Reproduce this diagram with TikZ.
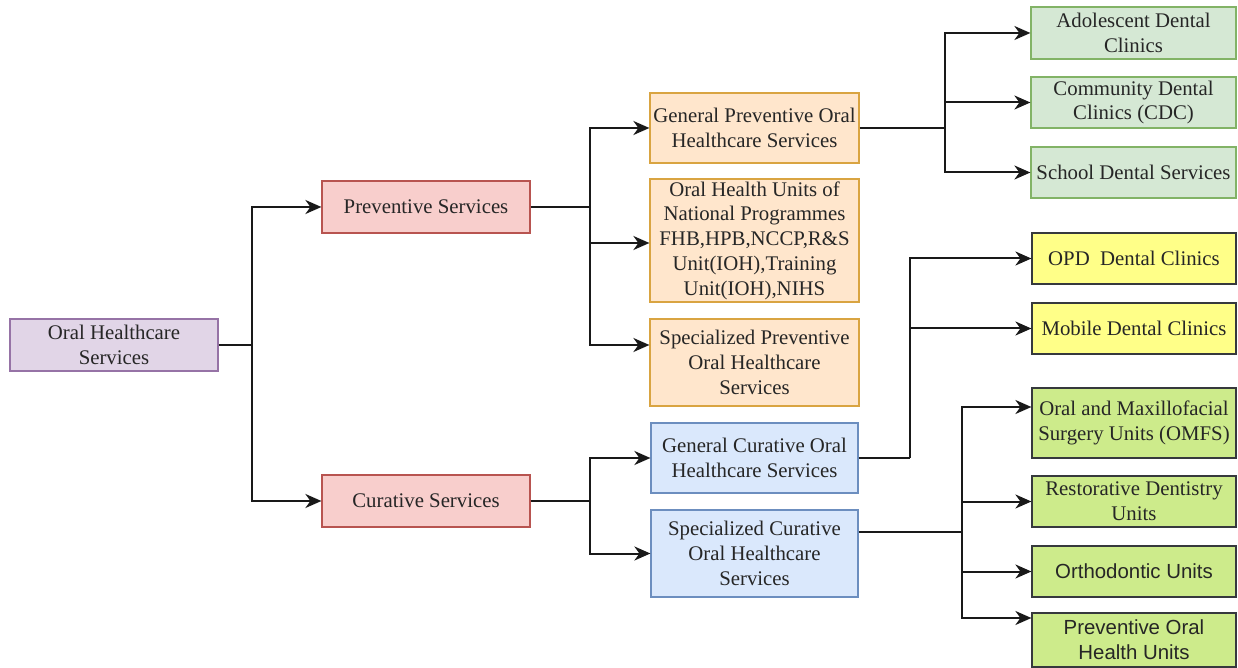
\documentclass[tikz,border=0pt]{standalone}
\usepackage{fontspec}
\setmainfont{Liberation Serif}
\newfontfamily\arialfont{Liberation Sans}
\usetikzlibrary{arrows.meta,calc}
\definecolor{purF}{HTML}{E1D5E7}\definecolor{purD}{HTML}{9673A6}
\definecolor{pinkF}{HTML}{F8CECC}\definecolor{pinkD}{HTML}{B85450}
\definecolor{orF}{HTML}{FFE6CC}\definecolor{orD}{HTML}{D9A441}
\definecolor{bluF}{HTML}{DAE8FC}\definecolor{bluD}{HTML}{6C8EBF}
\definecolor{lgrF}{HTML}{D5E8D4}\definecolor{lgrD}{HTML}{82B366}
\definecolor{yelF}{HTML}{FFFF88}\definecolor{darkD}{HTML}{36393D}
\definecolor{grnF}{HTML}{CDEB8B}
\begin{document}
\begin{tikzpicture}[x=0.5pt,y=-0.5pt,
  box/.style={draw, line width=0.6pt, rectangle, inner sep=1pt, align=center,
    font=\fontsize{10.4}{12.4}\selectfont, text=black!85},
  sansbox/.style={box, font=\arialfont\fontsize{10.2}{12.4}\selectfont},
  purbox/.style={box, fill=purF, draw=purD},
  pinkbox/.style={box, fill=pinkF, draw=pinkD},
  orbox/.style={box, fill=orF, draw=orD},
  blubox/.style={box, fill=bluF, draw=bluD},
  lgrbox/.style={box, fill=lgrF, draw=lgrD},
  yelbox/.style={box, fill=yelF, draw=darkD},
  grnbox/.style={box, fill=grnF, draw=darkD},
  conn/.style={line width=1pt, black!90},
  arr/.style={conn, -{Stealth[length=8pt,width=7pt,inset=2.5pt]}}
]
\useasboundingbox (0,0) rectangle (1238,668);

% column 1
\node[purbox, minimum width=104pt, minimum height=26pt] (ohs) at (114,345) {Oral Healthcare\\Services};
% column 2
\node[pinkbox, minimum width=104pt, minimum height=26pt] (prev) at (426,207) {Preventive Services};
\node[pinkbox, minimum width=104pt, minimum height=26pt] (cur) at (426,501) {Curative Services};
% column 3
\node[orbox, minimum width=104.5pt, minimum height=35pt] (gp) at (754.5,128) {General Preventive Oral\\Healthcare Services};
\node[orbox, minimum width=104.5pt, minimum height=61.5pt] (ohu) at (754.5,240.5) {Oral Health Units of\\National Programmes\\FHB,HPB,NCCP,R\&S\\Unit(IOH),Training\\Unit(IOH),NIHS};
\node[orbox, minimum width=104.5pt, minimum height=43.5pt] (sp) at (754.5,362.5) {Specialized Preventive\\Oral Healthcare\\Services};
\node[blubox, minimum width=103.5pt, minimum height=35pt] (gc) at (754.5,458) {General Curative Oral\\Healthcare Services};
\node[blubox, minimum width=103.5pt, minimum height=43.5pt] (sc) at (754.5,553.5) {Specialized Curative\\Oral Healthcare\\Services};
% column 4
\node[lgrbox, minimum width=102.5pt, minimum height=26pt] (adc) at (1133.5,33) {Adolescent Dental\\Clinics};
\node[lgrbox, minimum width=102.5pt, minimum height=25.5pt] (cdc) at (1133.5,102.5) {Community Dental\\Clinics (CDC)};
\node[lgrbox, minimum width=102.5pt, minimum height=25.5pt] (sds) at (1133.5,172.5) {School Dental Services};
\node[yelbox, minimum width=102pt, minimum height=25.5pt] (opd) at (1134,258.5) {OPD\ \ Dental Clinics};
\node[yelbox, minimum width=102pt, minimum height=25.5pt] (mdc) at (1134,328.5) {Mobile Dental Clinics};
\node[grnbox, minimum width=102pt, minimum height=35pt] (omfs) at (1134,423) {Oral and Maxillofacial\\Surgery Units (OMFS)};
\node[grnbox, minimum width=102pt, minimum height=25.5pt] (rdu) at (1134,501.5) {Restorative Dentistry\\Units};
\node[grnbox, sansbox, minimum width=102pt, minimum height=25.5pt] (ou) at (1134,571.5) {Orthodontic Units};
\node[grnbox, sansbox, minimum width=102pt, minimum height=27pt] (pohu) at (1134,640) {Preventive Oral\\Health Units};

% junctions
\coordinate (j0) at (252,345);
\coordinate (j1) at (590,207);
\coordinate (j2) at (590,501);
\coordinate (j3) at (945,128);
\coordinate (j4) at (910,458);
\coordinate (j5) at (962,532);

\draw[conn] (ohs.east) -- (j0);
\draw[arr] (j0) |- (prev.west);
\draw[arr] (j0) |- (cur.west);

\draw[conn] (prev.east) -- (j1);
\draw[arr] (j1) |- (gp.west);
\draw[arr] (j1) |- ([yshift=-1.25pt]ohu.west);
\draw[arr] (j1) |- ([yshift=8.75pt]sp.west);

\draw[conn] (cur.east) -- (j2);
\draw[arr] (j2) |- (gc.west);
\draw[arr] (j2) |- (sc.west);

\draw[conn] (gp.east) -- (j3);
\draw[arr] (j3) |- (adc.west);
\draw[arr] (j3) |- (cdc.west);
\draw[arr] (j3) |- (sds.west);

\draw[conn] (gc.east) -- (j4);
\draw[arr] (j4) |- (opd.west);
\draw[arr] (j4) |- (mdc.west);

\draw[conn] ([yshift=10.75pt]sc.east) -- (j5);
\draw[arr] (j5) |- ([yshift=8pt]omfs.west);
\draw[arr] (j5) |- (rdu.west);
\draw[arr] (j5) |- (ou.west);
\draw[arr] (j5) |- ([yshift=11pt]pohu.west);
\end{tikzpicture}
\end{document}
